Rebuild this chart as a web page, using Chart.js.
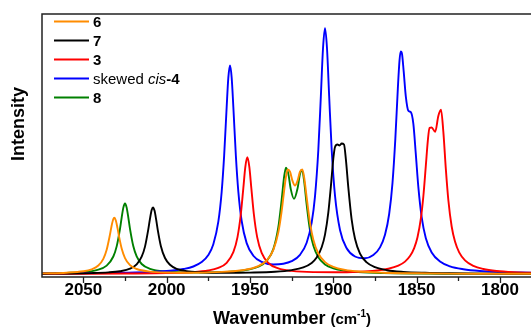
<!DOCTYPE html>
<html><head><meta charset="utf-8">
<script src="https://cdn.jsdelivr.net/npm/chart.js@4/dist/chart.umd.min.js"></script>
<style>html,body{margin:0;padding:0;background:#fff;overflow:hidden}#wrap{width:531px;height:327px;position:relative}</style>
</head><body><div id="wrap"><canvas id="c" width="531" height="327"></canvas></div>
<script>
// ---------- data ----------
const seriesLabels = ['6', '7', '3', 'skewed cis-4', '8'];
const seriesColors = ['#FF8C00', '#000000', '#FF0000', '#0000FF', '#008000'];

// compound 6 (orange)
const wn6 = [2075,2060,2050,2045,2041,2038,2036,2034,2033,2032,2031.4,2030.5,2029.5,2028.5,2027,2025,2022,2018,2010,2000,1985,1970,1955,1945,1940,1936,1933,1931,1929.5,1928.5,1927.4,1926,1924.5,1923,1921.5,1920,1918.6,1917.5,1916,1914,1912,1909,1905,1900,1893,1885,1870,1850,1830,1810,1781];
const int6 = [0.6,1.3,2.7,4.7,8.5,15.2,24.3,39.6,48.5,55.0,56.2,53.5,45.9,36.9,25.5,15.9,8.8,5.0,2.4,1.5,1.3,1.9,3.7,7.9,13.5,24.1,41.7,62.9,83.7,96.5,104.5,102.4,93.1,88.5,93.1,102.4,104.5,96.5,76.6,51.1,34.3,20.5,11.9,7.1,4.1,2.5,1.3,0.7,0.4,0.3,0.2];

// compound 7 (black)
const wn7 = [2075,2060,2045,2035,2028,2022,2018,2015,2013,2011,2010,2009,2008.2,2007.3,2006.3,2005.3,2003.5,2001,1998,1994,1988,1980,1965,1950,1935,1925,1918,1913,1910,1907,1905,1903,1901.5,1900,1899,1897.5,1896.3,1895,1893.6,1892.5,1891,1889,1887,1884,1880,1875,1868,1858,1845,1830,1810,1781];
const int7 = [0.3,0.5,0.9,1.6,2.8,5.3,9.7,17.3,27.4,44.8,55.4,64.0,66.6,63.4,54.4,43.7,28.1,16.0,9.2,5.2,2.9,1.8,1.2,1.4,2.2,3.9,6.6,11.1,16.4,26.7,39.4,61.7,87.2,115.5,127.0,129.5,128.5,130.5,129.5,115.1,86.3,54.3,35.2,20.4,11.6,6.8,3.8,2.1,1.2,0.7,0.4,0.2];

// compound 3 (red)
const wn3 = [2075,2050,2025,2000,1985,1975,1969,1964,1960,1957.5,1955.5,1954,1952.8,1951.6,1950.4,1949.2,1947.7,1945.7,1943,1939,1933,1925,1912,1898,1885,1875,1867,1861,1857,1854,1851.5,1849.5,1847.5,1846,1844.5,1843.3,1842.3,1841,1838.9,1837,1835.4,1834,1832.5,1831,1829,1827,1824.5,1821,1816,1810,1802,1792,1781];
const int3 = [0.2,0.3,0.5,0.9,1.8,3.5,6.1,11.2,21.8,36.9,60.0,85.9,107.1,116.7,107.1,85.9,60.0,36.9,21.1,11.0,5.6,3.1,1.9,1.8,2.3,3.3,5.3,8.4,12.4,17.9,25.9,36.7,55.3,77.5,108.3,133.4,146.2,146.5,142.2,158.0,164.2,142.3,105.1,74.0,47.5,32.4,21.6,13.6,8.1,5.0,3.0,1.8,1.2];

// skewed cis-4 (blue)
const wn4 = [2075,2055,2040,2025,2010,1998,1990,1984,1979,1975,1972,1969,1967,1965.5,1964,1963,1962,1961,1960,1958.5,1957,1955,1952,1948,1943,1936,1930,1925,1920,1916,1913,1911,1909,1907.5,1906.2,1905,1903.8,1902.5,1901,1899,1896,1892,1887,1881,1876,1872,1869,1866.5,1864.5,1862.8,1861.3,1860.3,1859.6,1858.8,1857.8,1856.5,1855,1853.5,1852,1850.5,1849,1847,1844.5,1841,1836,1830,1822,1812,1800,1781];
const int4 = [0.5,0.7,0.9,1.3,2.0,3.2,5.0,7.5,11.9,19.0,29.8,52.3,82.2,118.6,167.0,196.3,208.5,196.4,167.2,118.8,82.4,53.0,30.9,18.3,12.1,9.5,10.2,12.8,19.2,31.3,51.4,77.6,124.2,177.4,225.5,245.7,225.7,177.7,124.6,78.3,44.0,25.7,17.5,15.7,18.9,26.6,39.2,60.0,91.2,135.1,185.4,213.4,222.6,220.1,202.8,177.4,163.3,161.8,150.3,119.6,87.1,56.8,35.7,21.5,12.5,7.7,4.8,3.0,2.0,1.2];

// compound 8 (green)
const wn8 = [2075,2060,2050,2042,2036,2032,2030,2028,2027,2026,2025,2024,2023,2022,2020,2018,2015,2010,2000,1985,1970,1955,1945,1940,1936,1933,1931,1929.5,1928.4,1927,1925.5,1923.6,1921.5,1920,1918.8,1917.5,1916,1914,1912,1909,1905,1900,1893,1885,1870,1850,1830,1810,1781];
const int8 = [0.6,1.1,1.9,3.9,8.4,17.5,27.6,45.2,56.4,66.4,70.5,66.4,56.4,45.2,27.7,17.6,10.0,5.1,2.3,1.5,1.8,3.4,7.3,13.1,24.9,46.8,74.2,97.6,106.3,100.1,84.6,75.1,85.4,100.0,104.0,92.7,69.4,43.7,28.4,16.7,9.6,5.7,3.3,2.0,1.0,0.5,0.3,0.2,0.1];

const majorTicks = [2050, 2000, 1950, 1900, 1850, 1800];
const minorTicks = [2025, 1975, 1925, 1875, 1825];
const xRange = [1781.4, 2074.8];
const yRange = [-3, 260];
const xTitle = ['Wavenumber ', '(cm', '-1', ')'];
const yTitle = 'Intensity';

// ---------- build ----------
const seriesX = [wn6, wn7, wn3, wn4, wn8];
const seriesY = [int6, int7, int3, int4, int8];
const FONT = "'Liberation Sans', Arial, sans-serif";

const datasets = seriesLabels.map((lab, i) => ({
  label: lab,
  data: seriesX[i].map((x, k) => ({ x: x, y: seriesY[i][k] })),
  borderColor: seriesColors[i],
  backgroundColor: seriesColors[i],
  borderWidth: 1.9,
  pointRadius: 0,
  fill: false,
  cubicInterpolationMode: 'monotone'
}));

const decor = {
  id: 'decor',
  afterDraw(chart) {
    const ctx = chart.ctx, ca = chart.chartArea, xs = chart.scales.x;
    ctx.save();
    // frame
    ctx.strokeStyle = '#222'; ctx.lineWidth = 1.5;
    ctx.beginPath();
    ctx.moveTo(ca.right + 2, ca.top); ctx.lineTo(ca.left, ca.top);
    ctx.lineTo(ca.left, ca.bottom); ctx.lineTo(ca.right + 2, ca.bottom);
    ctx.stroke();
    // ticks
    ctx.lineWidth = 1.3;
    majorTicks.forEach(v => { const p = Math.round(xs.getPixelForValue(v)) + 0.5; ctx.beginPath(); ctx.moveTo(p, ca.bottom); ctx.lineTo(p, ca.bottom + 6); ctx.stroke(); });
    minorTicks.forEach(v => { const p = Math.round(xs.getPixelForValue(v)) + 0.5; ctx.beginPath(); ctx.moveTo(p, ca.bottom); ctx.lineTo(p, ca.bottom + 4); ctx.stroke(); });
    // legend
    ctx.textBaseline = 'middle'; ctx.textAlign = 'left'; ctx.fillStyle = '#000';
    seriesLabels.forEach((lab, i) => {
      const y = ca.top + 7.5 + i * 19;
      ctx.strokeStyle = seriesColors[i]; ctx.lineWidth = 2;
      ctx.beginPath(); ctx.moveTo(ca.left + 12, y); ctx.lineTo(ca.left + 47, y); ctx.stroke();
      let x = ca.left + 51;
      const m = lab.match(/^(.*?)(cis)(-.*)$/);
      const segs = m ? [[m[1], 'normal 15px'], [m[2], 'italic 15px'], [m[3], 'bold 15px']] : [[lab, 'bold 15px']];
      segs.forEach(s => { ctx.font = s[1] + ' ' + FONT; ctx.fillText(s[0], x, y + 1); x += ctx.measureText(s[0]).width; });
    });
    // y title
    ctx.save();
    ctx.translate(19, 124); ctx.rotate(-Math.PI / 2);
    ctx.font = 'bold 18px ' + FONT; ctx.textAlign = 'center'; ctx.textBaseline = 'middle';
    ctx.fillText(yTitle, 0, 0);
    ctx.restore();
    // x title
    const tsegs = [[xTitle[0], 'bold 18px', 0], [xTitle[1], 'bold 15px', 0], [xTitle[2], 'bold 10px', -7], [xTitle[3], 'bold 15px', 0]];
    let tw = 0;
    tsegs.forEach(s => { ctx.font = s[1] + ' ' + FONT; tw += ctx.measureText(s[0]).width; });
    let tx = 292 - tw / 2;
    ctx.textBaseline = 'alphabetic';
    tsegs.forEach(s => { ctx.font = s[1] + ' ' + FONT; ctx.fillText(s[0], tx, 324 + s[2]); tx += ctx.measureText(s[0]).width; });
    ctx.restore();
  }
};

new Chart(document.getElementById('c'), {
  type: 'line',
  data: { datasets },
  options: {
    responsive: false, animation: false, devicePixelRatio: 1,
    layout: { padding: { top: 14, right: 0, bottom: 0, left: 0 } },
    plugins: { legend: { display: false }, tooltip: { enabled: false } },
    scales: {
      x: {
        type: 'linear', reverse: true, min: xRange[0], max: xRange[1],
        afterBuildTicks: s => { s.ticks = majorTicks.map(v => ({ value: v })); },
        afterFit: s => { s.height = 50; },
        grid: { display: false, drawTicks: false, tickLength: 0 }, border: { display: false },
        ticks: { color: '#000', padding: 3, maxRotation: 0, autoSkip: false,
          font: { family: FONT, size: 17, weight: 'bold' }, callback: v => String(v) }
      },
      y: {
        min: yRange[0], max: yRange[1],
        afterFit: s => { s.width = 42; },
        grid: { display: false }, border: { display: false },
        ticks: { display: false }
      }
    }
  },
  plugins: [decor]
});
</script></body></html>
